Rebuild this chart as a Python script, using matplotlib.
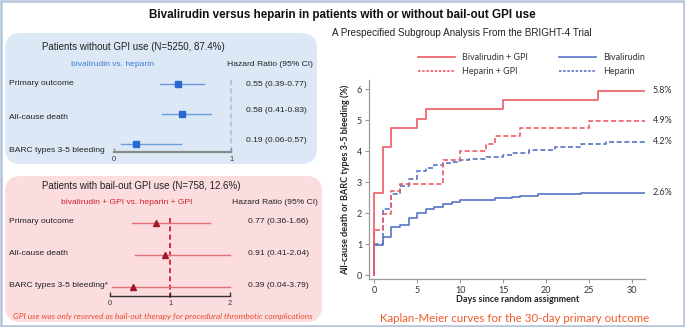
import matplotlib
matplotlib.use("Agg")
import matplotlib.pyplot as plt
from matplotlib.patches import FancyBboxPatch, Rectangle
from matplotlib.lines import Line2D

plt.rcParams['font.family'] = ['Liberation Sans', 'DejaVu Sans']

# ---------------- data ----------------
title = "Bivalirudin versus heparin in patients with or without bail-out GPI use"
subtitle = "A Prespecified Subgroup Analysis From the BRIGHT-4 Trial"

outcomes = ["Primary outcome", "All-cause death", "BARC types 3-5 bleeding"]
outcomes_gpi = ["Primary outcome", "All-cause death", "BARC types 3-5 bleeding*"]

hr_nogpi = [0.55, 0.58, 0.19]
lo_nogpi = [0.39, 0.41, 0.06]
hi_nogpi = [0.77, 0.83, 0.57]

hr_gpi = [0.77, 0.91, 0.39]
lo_gpi = [0.36, 0.41, 0.04]
hi_gpi = [1.66, 2.04, 3.79]

# Kaplan-Meier curves (days, cumulative %)
t_biv_gpi = [0, 0, 1, 2, 5, 6, 15, 26]
v_biv_gpi = [0, 2.64, 4.14, 4.75, 5.05, 5.36, 5.65, 5.95]
t_hep_gpi = [0, 0, 1, 2, 3, 8, 10, 13, 14, 17, 25]
v_hep_gpi = [0, 1.47, 1.98, 2.72, 2.96, 3.73, 4.0, 4.23, 4.48, 4.74, 4.98]
t_biv = [0, 0, 1, 2, 3, 4, 5, 6, 7, 8, 9, 10, 14, 16, 17, 19, 24]
v_biv = [0, 0.99, 1.25, 1.55, 1.63, 1.85, 2.0, 2.13, 2.21, 2.29, 2.36, 2.44, 2.48, 2.52, 2.57, 2.62, 2.67]
t_hep = [0, 0, 1, 2, 3, 4, 5, 6, 7, 8, 9, 10, 11, 13, 15, 16, 18, 21, 24, 27]
v_hep = [0, 1.0, 2.15, 2.62, 2.88, 3.1, 3.38, 3.45, 3.56, 3.62, 3.67, 3.72, 3.76, 3.8, 3.88, 3.96, 4.05, 4.15, 4.25, 4.3]
t_end = 31.5
km_names = ["Bivalirudin + GPI", "Heparin + GPI", "Bivalirudin", "Heparin"]
end_labels = ["5.8%", "4.9%", "2.6%", "4.2%"]   # same order as km_names

W, H = 685, 327
fig = plt.figure(figsize=(W / 100, H / 100), dpi=100)

bg = fig.add_axes([0, 0, 1, 1], zorder=0)
bg.set_xlim(0, W)
bg.set_ylim(H, 0)
bg.axis('off')


def px_axes(left, top, right, bottom, z=2):
    return fig.add_axes([left / W, 1 - bottom / H, (right - left) / W, (bottom - top) / H], zorder=z)


FS = 6.1
HFS = 7.0

# outer frame
bg.add_patch(Rectangle((1, 1), W - 2, H - 2, fill=False, edgecolor='#b4c4da', lw=1.8))

# panels
bg.add_patch(FancyBboxPatch((5, 33), 312, 131, boxstyle="round,pad=0,rounding_size=16",
                            facecolor='#dce8f6', edgecolor='none'))
bg.add_patch(FancyBboxPatch((5, 176), 317, 146, boxstyle="round,pad=0,rounding_size=16",
                            facecolor='#fbdcdf', edgecolor='none'))

bg.text(342, 15, title, ha='center', va='center', fontsize=8.4, fontweight='bold', color='#111111')
bg.text(462, 33, subtitle, ha='center', va='center', fontsize=7.1, color='#222222')

# ---------- top forest (without GPI) ----------
x0, sx = 114, 117.0
axA = px_axes(5, 72, 317, 152)
axA.set_xlim((5 - x0) / sx, (317 - x0) / sx)
axA.set_ylim(2.267, -0.4)
axA.patch.set_alpha(0)
for s in ['top', 'right', 'left']:
    axA.spines[s].set_visible(False)
axA.spines['bottom'].set_bounds(0, 1)
axA.spines['bottom'].set_color('#8a8a8a')
axA.spines['bottom'].set_linewidth(1.6)
axA.set_yticks([])
axA.set_xticks([0, 1])
axA.set_xticklabels(['0', '1'])
axA.tick_params(axis='x', direction='in', length=3, width=1, color='#8a8a8a', labelsize=5.3, pad=3,
                labelcolor='#333333')
axA.plot([1, 1], [-0.13, 2.27], ls=(0, (3, 2)), color='#a9c1e2', lw=1.2, zorder=1)
rows = [0, 1, 2]
for r, h, lo, hi in zip(rows, hr_nogpi, lo_nogpi, hi_nogpi):
    axA.plot([lo, hi], [r, r], color='#6b9be0', lw=1.0, zorder=2)
    axA.plot([h], [r], marker='s', ms=4.5, color='#2a68d0', zorder=3)
label_off_A = [0.0, 0.13, 0.23]
hr_off_A = [0.03, -0.1, -0.13]
for r, name, lo_off in zip(rows, outcomes, label_off_A):
    axA.text((9 - x0) / sx, r + lo_off, name, ha='left', va='center', fontsize=FS, color='#222222')
for r, h, lo, hi, off in zip(rows, hr_nogpi, lo_nogpi, hi_nogpi, hr_off_A):
    axA.text((246 - x0) / sx, r + off, f"{h:.2f} ({lo:.2f}-{hi:.2f})", ha='left', va='center',
             fontsize=FS, color='#222222')
bg.text(42, 47, "Patients without GPI use (N=5250, 87.4%)", ha='left', va='center', fontsize=HFS,
        color='#222222')
bg.text(113, 64, "bivalirudin vs. heparin", ha='center', va='center', fontsize=FS, color='#3d7bd6')
bg.text(227, 64, "Hazard Ratio (95% CI)", ha='left', va='center', fontsize=FS, color='#222222')

# ---------- bottom forest (with GPI) ----------
x1, sx1 = 110, 60.0
axB = px_axes(5, 205, 322, 296)
axB.set_xlim((5 - x1) / sx1, (322 - x1) / sx1)
axB.set_ylim(2.28, -0.5625)
axB.patch.set_alpha(0)
for s in ['top', 'right', 'left']:
    axB.spines[s].set_visible(False)
axB.spines['bottom'].set_bounds(0, 2)
axB.spines['bottom'].set_color('#333333')
axB.spines['bottom'].set_linewidth(1.0)
axB.set_yticks([])
axB.set_xticks([0, 1, 2])
axB.set_xticklabels(['0', '1', '2'])
axB.tick_params(axis='x', direction='in', length=3, width=1, color='#333333', labelsize=5.3, pad=3,
                labelcolor='#333333')
axB.plot([1, 1], [-0.15, 2.4], ls=(0, (3, 2)), color='#d0101c', lw=1.2, zorder=1, clip_on=False)
for r, h, lo, hi in zip(rows, hr_gpi, lo_gpi, hi_gpi):
    axB.plot([lo, min(hi, 2)], [r, r], color='#e2707a', lw=1.0, zorder=2)
    axB.plot([h], [r], marker='^', ms=4.5, color='#9c1a2a', zorder=3)
label_off_B = [-0.06, -0.06, -0.04]
hr_off_B = [-0.06, -0.06, -0.06]
for r, name, off in zip(rows, outcomes_gpi, label_off_B):
    axB.text((9 - x1) / sx1, r + off, name, ha='left', va='center', fontsize=FS, color='#222222')
for r, h, lo, hi, off in zip(rows, hr_gpi, lo_gpi, hi_gpi, hr_off_B):
    axB.text((248 - x1) / sx1, r + off, f"{h:.2f} ({lo:.2f}-{hi:.2f})", ha='left', va='center',
             fontsize=FS, color='#222222')
bg.text(42, 186, "Patients with bail-out GPI use (N=758, 12.6%)", ha='left', va='center', fontsize=HFS,
        color='#222222')
bg.text(127, 203, "bivalirudin + GPI vs. heparin + GPI", ha='center', va='center', fontsize=FS,
        color='#d0202a')
bg.text(232, 203, "Hazard Ratio (95% CI)", ha='left', va='center', fontsize=FS, color='#222222')
bg.text(163, 316, "GPI use was only reserved as bail-out therapy for procedural thrombotic complications",
        ha='center', va='center', fontsize=6.0, style='italic', color='#e8502e', family=['Lato', 'DejaVu Sans'])

# ---------- Kaplan-Meier ----------
km_font = ['Lato', 'DejaVu Sans']
KFS = 6.5
ax = px_axes(369, 80, 645, 279)
ax.set_xlim(-0.6, 31.5)
ax.set_ylim(-0.12, 6.3)
ax.patch.set_alpha(0)
for s in ['top', 'right']:
    ax.spines[s].set_visible(False)
for s in ['left', 'bottom']:
    ax.spines[s].set_color('#9a9a9a')
    ax.spines[s].set_linewidth(0.9)

red = '#ee5a66'
blue = '#5574c4'
curves = [
    (t_biv_gpi, v_biv_gpi, red, '-'),
    (t_hep_gpi, v_hep_gpi, red, (0, (3, 1.6))),
    (t_biv, v_biv, blue, '-'),
    (t_hep, v_hep, blue, (0, (3, 1.6))),
]
order = [2, 3, 1, 0]
for i in order:
    t, v, c, ls = curves[i]
    tt = list(t) + [t_end]
    vv = list(v) + [v[-1]]
    ax.step(tt, vv, where='post', color=c, ls=ls, lw=1.2, zorder=3 + (i == 0))
handles = []
for i, (t, v, c, ls) in enumerate(curves):
    handles.append(Line2D([], [], color=c, ls=(ls if i in (0, 2) else (0, (1.5, 1))), lw=1.2))

ax.set_xticks([0, 5, 10, 15, 20, 25, 30])
ax.set_yticks([0, 1, 2, 3, 4, 5, 6])
ax.tick_params(axis='both', direction='out', length=3, width=0.8, color='#9a9a9a', labelsize=KFS,
               labelcolor='#333333', pad=2)
for lab in ax.get_xticklabels() + ax.get_yticklabels():
    lab.set_family(km_font)
ax.set_ylabel("All-cause death or BARC types 3-5 bleeding (%)", fontsize=KFS, fontweight='bold',
              family=km_font, color='#222222', labelpad=5)
bg.text(518, 299, "Days since random assignment", ha='center', va='center', fontsize=KFS,
        fontweight='bold', family=km_font, color='#222222')
for (t, v, c, ls), lab in zip(curves, end_labels):
    ax.text(32.4, v[-1], lab, ha='left', va='center', fontsize=KFS, family=km_font, color='#333333',
            clip_on=False)

leg = ax.legend(handles, km_names, ncol=2, loc='upper left', bbox_to_anchor=(418 / W, 1 - 53 / H),
                bbox_transform=fig.transFigure, frameon=False, prop={'family': km_font, 'size': KFS},
                handlelength=4.1, handletextpad=0.8, columnspacing=3.45, labelspacing=0.55,
                borderpad=0, borderaxespad=0)
for txt in leg.get_texts():
    txt.set_color('#333333')

bg.text(515, 318, "Kaplan-Meier curves for the 30-day primary outcome", ha='center', va='center',
        fontsize=8.3, family=km_font, color='#f05a28')

fig.savefig("out.png", dpi=100)
